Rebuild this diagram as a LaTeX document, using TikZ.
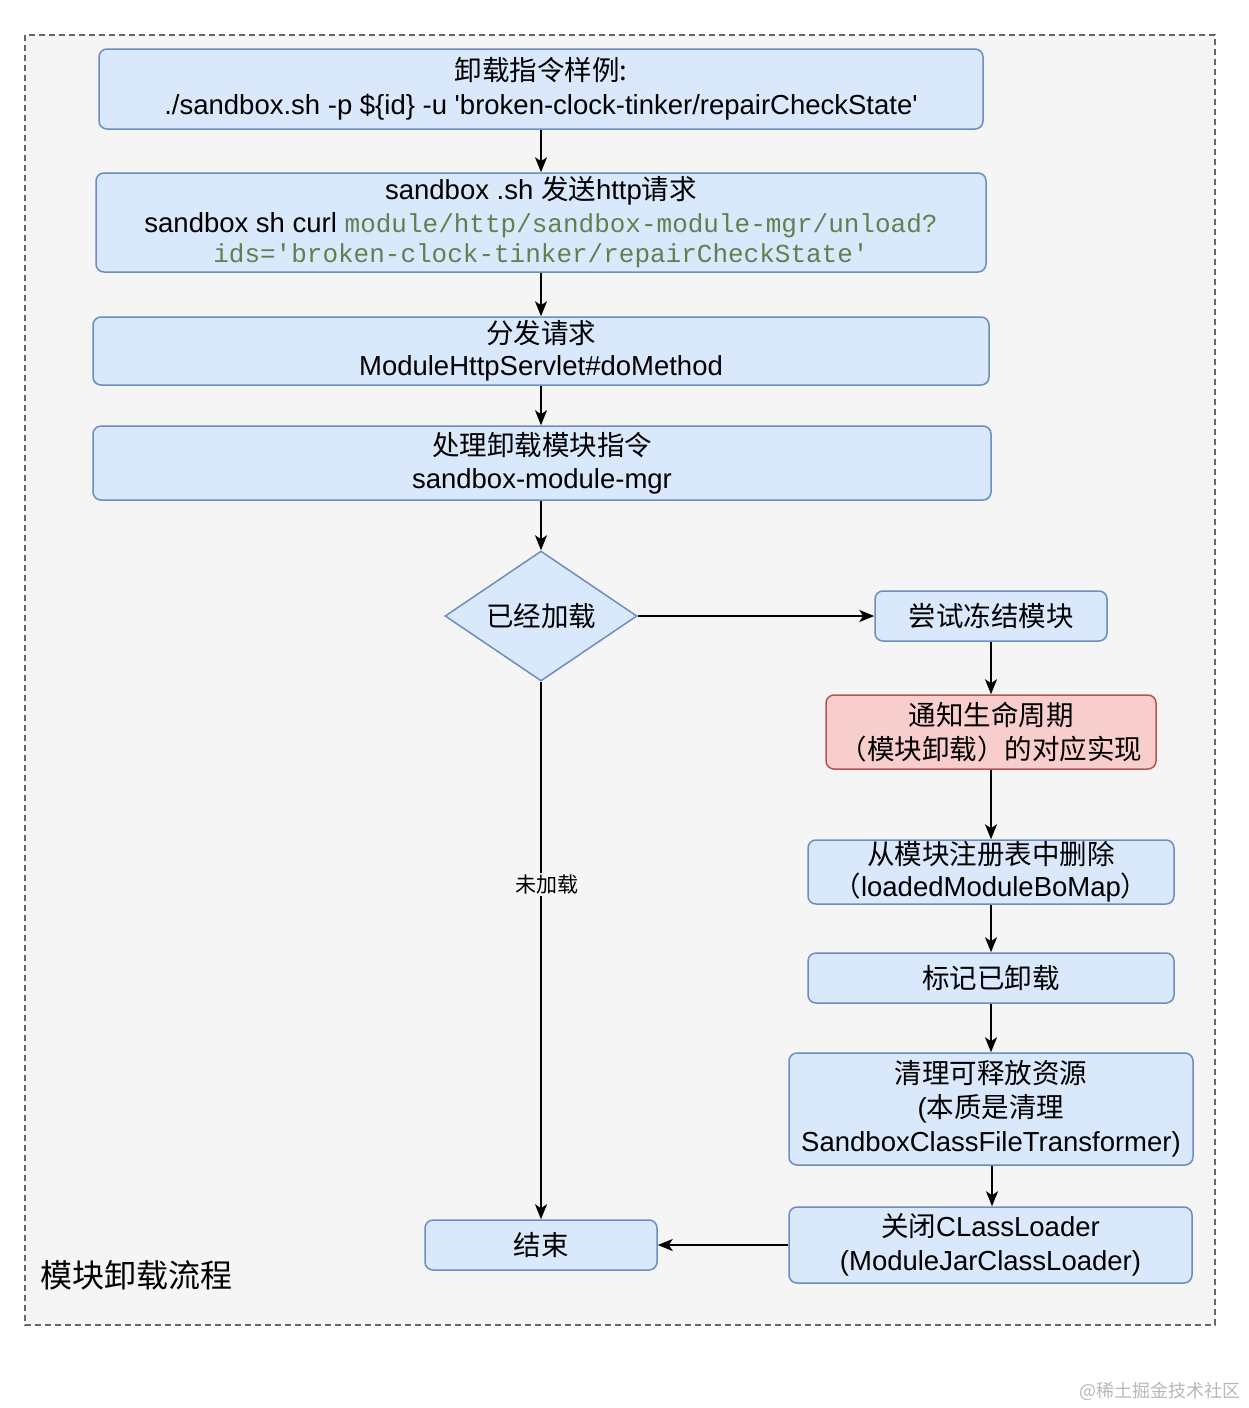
\documentclass[tikz,border=0pt]{standalone}
\usepackage{fontspec}
\setmainfont{Liberation Sans}[Ligatures=TeXOff]
\setmonofont{Liberation Mono}
\newfontfamily\zh{Noto Sans CJK SC}
\usetikzlibrary{shapes.geometric,arrows.meta}
\definecolor{bfill}{HTML}{DAE8FC}
\definecolor{bstroke}{HTML}{6C8EBF}
\definecolor{rfill}{HTML}{F8CECC}
\definecolor{rstroke}{HTML}{B85450}
\definecolor{cbg}{HTML}{F5F5F5}
\definecolor{cline}{HTML}{666666}
\definecolor{codegreen}{RGB}{98,128,78}
\tikzset{
  box/.style={draw=bstroke, fill=bfill, line width=1.5pt, rounded corners=8pt,
    align=center, inner sep=0pt, font=\fontsize{27.5}{34}\selectfont},
  redbox/.style={box, draw=rstroke, fill=rfill},
  arr/.style={-{Stealth[length=15pt,width=12pt,inset=4pt]}, line width=1.7pt}
}
\newcommand{\cd}[1]{{\ttfamily\fontsize{26}{34}\selectfont\color{codegreen}#1}}
\begin{document}
\begin{tikzpicture}[x=1pt,y=-1pt]
\useasboundingbox (0,0) rectangle (1248,1408);
\fill[white] (0,0) rectangle (1248,1408);
% container
\draw[cline, fill=cbg, line width=1.5pt, dash pattern=on 6pt off 4pt] (25,35) rectangle (1215,1325);

\node[box, minimum width=884pt, minimum height=80pt] (b1) at (541,89)
  {{\zh 卸载指令样例:}\\./sandbox.sh -p \$\{id\} -u 'broken-clock-tinker/repairCheckState'};
\node[box, minimum width=890pt, minimum height=99pt] (b2) at (541,222.5)
  {sandbox .sh {\zh 发送}http{\zh 请求}\\[-1pt]sandbox sh curl \cd{module/http/sandbox-module-mgr/unload?}\\[-4pt]\cd{ids='broken-clock-tinker/repairCheckState'}};
\node[box, minimum width=896pt, minimum height=68pt] (b3) at (541,351)
  {{\zh 分发请求}\\[-2pt]ModuleHttpServlet\#doMethod};
\node[box, minimum width=898pt, minimum height=74pt] (b4) at (542,463)
  {{\zh 处理卸载模块指令}\\[-1pt]sandbox-module-mgr};
\node[diamond, draw=bstroke, fill=bfill, line width=1.5pt, minimum width=192pt,
  minimum height=130pt, inner sep=0pt, aspect=1.477, font=\zh\fontsize{27.5}{34}\selectfont] (d) at (541,616) {已经加载};
\node[box, minimum width=232pt, minimum height=50pt] (t1) at (991,616) {{\zh 尝试冻结模块}};
\node[redbox, minimum width=330pt, minimum height=74pt] (t2) at (991,732)
  {{\zh 通知生命周期}\\{\zh （模块卸载）的对应实现}};
\node[box, minimum width=366pt, minimum height=64pt] (t3) at (991,872)
  {{\zh 从模块注册表中删除}\\[-2pt]{\zh （}loadedModuleBoMap{\zh ）}};
\node[box, minimum width=366pt, minimum height=50pt] (t4) at (991,978) {{\zh 标记已卸载}};
\node[box, minimum width=404pt, minimum height=112pt] (t5) at (991,1109)
  {{\zh 清理可释放资源}\\({\zh 本质是清理}\\SandboxClassFileTransformer)};
\node[box, minimum width=403pt, minimum height=76pt] (t6) at (990.5,1245)
  {{\zh 关闭}CLassLoader\\(ModuleJarClassLoader)};
\node[box, minimum width=232pt, minimum height=50pt] (e) at (541,1245) {{\zh 结束}};

\node[anchor=west, font=\zh\fontsize{32}{36}\selectfont] (title) at (37,1275) {模块卸载流程};
\node[anchor=east, text=black!28, font=\zh\fontsize{18}{20}\selectfont] (wm) at (1244,1391) {@稀土掘金技术社区};

\draw[arr] (b1.south -| 541,0) -- (b2.north -| 541,0);
\draw[arr] (b2.south -| 541,0) -- (b3.north -| 541,0);
\draw[arr] (b3.south -| 541,0) -- (b4.north -| 541,0);
\draw[arr] (b4.south -| 541,0) -- (d.north);
\draw[arr] (d.east) -- (t1.west);
\draw[arr] (t1) -- (t2);
\draw[arr] (t2) -- (t3);
\draw[arr] (t3) -- (t4);
\draw[arr] (t4) -- (t5);
\draw[arr] (t5.south -| 992,0) -- (t6.north -| 992,0);
\draw[arr] (t6.west) -- (e.east);
\draw[arr] (d.south) -- node[pos=0.377, xshift=6pt, fill=cbg, inner sep=2pt, font=\zh\fontsize{21}{24}\selectfont] (lbl) {未加载} (e.north);
\end{tikzpicture}
\end{document}
